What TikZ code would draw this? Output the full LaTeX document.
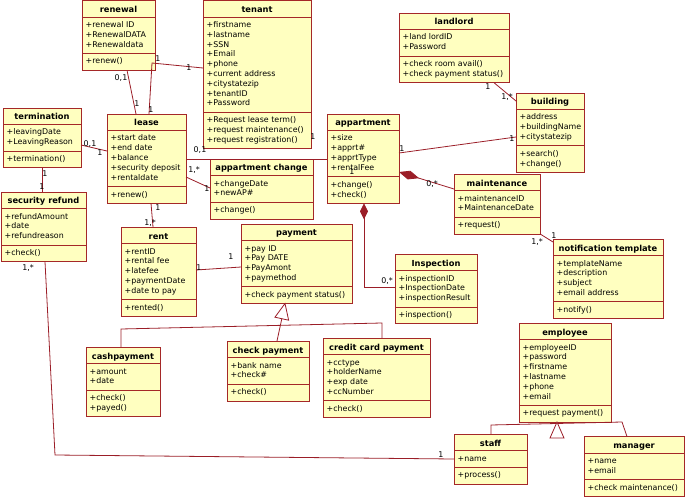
\documentclass[tikz,border=0pt]{standalone}
\usepackage{fontspec}
\setmainfont{DejaVu Sans}
\usetikzlibrary{arrows.meta,calc}
\definecolor{clsfill}{RGB}{255,255,192}
\definecolor{clsborder}{RGB}{165,40,40}
\definecolor{connred}{RGB}{155,30,40}
\tikzset{
 cls/.style={draw=clsborder, fill=clsfill, line width=0.8pt, inner sep=0pt, outer sep=0pt},
 clsline/.style={draw=clsborder, line width=0.8pt},
 ttl/.style={font=\bfseries\fontsize{8.3}{9}\selectfont, inner sep=0pt, anchor=base},
 txt/.style={font=\fontsize{7.9}{9}\selectfont, inner sep=0pt, anchor=base west},
 conn/.style={draw=connred, line width=0.8pt},
 mult/.style={font=\fontsize{7.9}{9}\selectfont, inner sep=0pt},
}
% #1 name, #2 left, #3 top, #4 width, #5 title, #6 attributes, #7 n attr, #8 methods, #9 n meth
\newcommand\umlclass[9]{%
 \pgfmathsetmacro\ya{#3+16.5}%
 \pgfmathsetmacro\yb{\ya+9.8*#7+7}%
 \pgfmathsetmacro\yc{\yb+9.8*#9+7}%
 \pgfmathsetmacro\clsh{\yc-#3}%
 \node[cls, minimum width=#4pt, minimum height=\clsh pt, anchor=north west] (#1) at (#2,#3) {};
 \draw[clsline] (#2,\ya) -- ++(#4,0);
 \draw[clsline] (#2,\yb) -- ++(#4,0);
 \node[ttl] (#1-title) at (#2+#4/2,#3+12) {#5};
 \foreach \itm [count=\i] in {#6} \node[txt] (#1-a\i) at (#2+3.5,\ya+10.5+9.8*\i-9.8) {\itm};
 \foreach \itm [count=\i] in {#8} \node[txt] (#1-m\i) at (#2+3.5,\yb+10.5+9.8*\i-9.8) {\itm};
}
\begin{document}
\begin{tikzpicture}[x=1pt,y=-1pt]
\useasboundingbox (0,0) rectangle (685,497);

\coordinate (b1) at (152,63);
\coordinate (b2) at (55,455);
\coordinate (b3) at (121,329);
\coordinate (b4) at (382,323);
\coordinate (b5) at (281.8,318.7);
\coordinate (b6) at (364,287);
\coordinate (b7) at (491,425);
\coordinate (b8) at (622,422);

% ---------- classes ----------
\umlclass{renewal}{82}{0.5}{73}{renewal}{+renewal ID,+RenewalDATA,+Renewaldata}{3}{+renew()}{1}
\umlclass{tenant}{203}{0.5}{108}{tenant}{+firstname,+lastname,+SSN,+Email,+phone,+current address,+citystatezip,+tenantID,+Password}{9}{+Request lease term(),+request maintenance(),+request registration()}{3}
\umlclass{landlord}{399}{13}{110}{landlord}{+land lordID,+Password}{2}{+check room avail(),+check payment status()}{2}
\umlclass{building}{516}{93}{68}{building}{+address,+buildingName,+citystatezip}{3}{+search(),+change()}{2}
\umlclass{termination}{3}{108}{78}{termination}{+leavingDate,+LeavingReason}{2}{+termination()}{1}
\umlclass{lease}{107}{114}{79}{lease}{+start date,+end date,+balance,+security deposit,+rentaldate}{5}{+renew()}{1}
\umlclass{appchange}{210}{159}{103}{appartment change}{+changeDate,+newAP\#}{2}{+change()}{1}
\umlclass{appartment}{327}{114}{72}{appartment}{+size,+apprt\#,+apprtType,+rentalFee}{4}{+change(),+check()}{2}
\umlclass{maintenance}{454}{174}{86}{maintenance}{+maintenanceID,+MaintenanceDate}{2}{+request()}{1}
\umlclass{secrefund}{1}{192}{85}{security refund}{+refundAmount,+date,+refundreason}{3}{+check()}{1}
\umlclass{rent}{121}{227}{75}{rent}{+rentID,+rental fee,+latefee,+paymentDate,+date to pay}{5}{+rented()}{1}
\umlclass{payment}{241}{224}{111}{payment}{+pay ID,+Pay DATE,+PayAmont,+paymethod}{4}{+check payment status()}{1}
\umlclass{inspection}{395}{254}{82}{Inspection}{+inspectionID,+InspectionDate,+inspectionResult}{3}{+inspection()}{1}
\umlclass{notification}{553}{239}{110}{notification template}{+templateName,+description,+subject,+email address}{4}{+notify()}{1}
\umlclass{cashpayment}{86}{347}{74}{cashpayment}{+amount,+date}{2}{+check(),+payed()}{2}
\umlclass{checkpayment}{227}{341}{82}{check payment}{+bank name,+check\#}{2}{+check()}{1}
\umlclass{creditcard}{323}{338}{107}{credit card payment}{+cctype,+holderName,+exp date,+ccNumber}{4}{+check()}{1}
\umlclass{employee}{519}{323}{92}{employee}{+employeeID,+password,+firstname,+lastname,+phone,+email}{6}{+request payment()}{1}
\umlclass{staff}{454}{434}{73}{staff}{+name}{1}{+process()}{1}
\umlclass{manager}{584}{436.5}{100}{manager}{+name,+email}{2}{+check maintenance()}{1}

% ---------- associations ----------
\draw[conn] (renewal.south -| 127,0) -- (lease.north -| 136,0);
\draw[conn] (tenant.west |- 0,68) -- (b1) -- (lease.north -| 149,0);
\draw[conn] (termination.east |- 0,145) -- (lease.west |- 0,151);
\draw[conn] (lease.east |- 0,159) -- (appartment.west |- 0,159);
\draw[conn] (lease.east |- 0,177) -- (appchange.west |- 0,188);
\draw[conn] (lease.south -| 151,0) -- (rent.north -| 153,0);
\draw[conn] (termination.south -| 42,0) -- (secrefund.north -| 42,0);
\draw[conn] (secrefund.south -| 45,0) -- (b2) -- (staff.west |- 0,459);
\draw[conn] (rent.east |- 0,270) -- (payment.west |- 0,267);
\draw[conn] (appartment.east |- 0,153) -- (building.west |- 0,137);
\draw[conn] (landlord.south -| 494,0) -- (building.west |- 0,101);
\draw[conn, {Diamond[length=21pt,width=9pt]}-] (appartment.east |- 0,172) -- (maintenance.west |- 0,189);
\draw[conn, {Diamond[length=16pt,width=8pt]}-] (appartment.south -| 364,0) -- (b6) -- (inspection.west |- 0,287);
\draw[conn] (maintenance.south east) -- (notification.west |- 0,242);

% ---------- generalizations ----------
\draw[conn] (cashpayment.north -| 121,0) -- (b3) -- (b4) -- (creditcard.north -| 382,0);
\draw[conn] (checkpayment.north -| 277,0) -- (b5);
\draw[conn, fill=white] (payment.south -| 285,0) -- (274.96,317.2) -- (288.64,320.2) -- cycle;
\draw[conn] (staff.north -| 491,0) -- (b7) -- (b8) -- (manager.north -| 627,0);
\draw[conn, fill=white] (employee.south -| 557,0) -- (550,438) -- (564,438) -- cycle;

% ---------- multiplicities ----------
\node[mult] (m1) at (121,78) {0,1};
\node[mult] (m2) at (137,104) {1};
\node[mult] (m3) at (158,59) {1};
\node[mult] (m4) at (189,68) {1};
\node[mult] (m5) at (151,110) {1};
\node[mult] (m6) at (90,144) {0,1};
\node[mult] (m7) at (100,153) {1};
\node[mult] (m8) at (200,150) {0,1};
\node[mult] (m9) at (313,137) {1};
\node[mult] (m10) at (194,170) {1,*};
\node[mult] (m11) at (207,189) {1};
\node[mult] (m12) at (158,208) {1};
\node[mult] (m13) at (150,223) {1,*};
\node[mult] (m14) at (45,174) {1};
\node[mult] (m15) at (42,187) {1};
\node[mult] (m16) at (28,268) {1,*};
\node[mult] (m17) at (441,455) {1};
\node[mult] (m18) at (199,268) {1};
\node[mult] (m19) at (231,257) {1};
\node[mult] (m20) at (402,149) {1};
\node[mult] (m21) at (512,139) {1};
\node[mult] (m22) at (488,87) {1};
\node[mult] (m23) at (507,97) {1,*};
\node[mult] (m24) at (432,184) {0,*};
\node[mult] (m25) at (352,172) {1};
\node[mult] (m26) at (387,281) {0,*};
\node[mult] (m27) at (554,236) {1};
\node[mult] (m28) at (537,242) {1,*};
\end{tikzpicture}
\end{document}
